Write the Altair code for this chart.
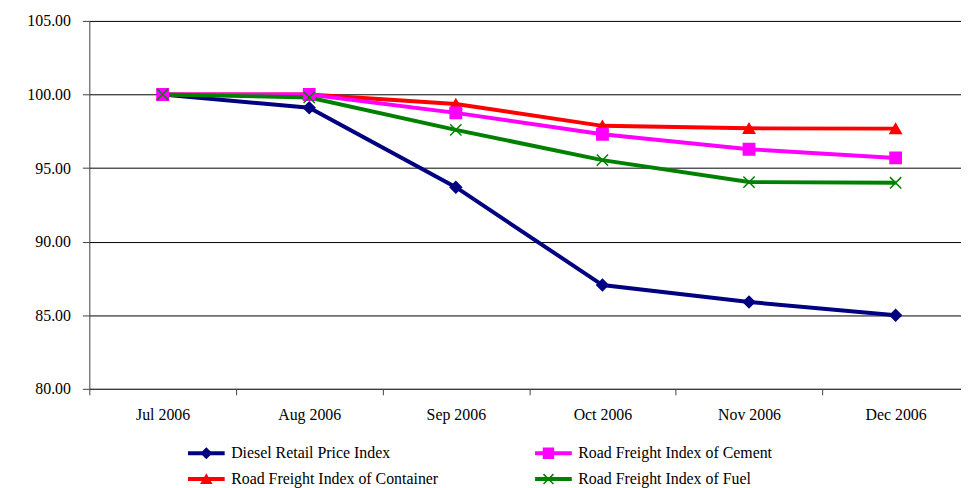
import altair as alt
import pandas as pd

# ---- data ----
months = ["Jul 2006", "Aug 2006", "Sep 2006", "Oct 2006", "Nov 2006", "Dec 2006"]
# legend is filled column by column: col 1 = Diesel, Container; col 2 = Cement, Fuel
series_names = [
    "Diesel Retail Price Index",
    "Road Freight Index of Container",
    "Road Freight Index of Cement",
    "Road Freight Index of Fuel",
]
diesel = [100.00, 99.10, 93.70, 87.05, 85.90, 85.00]
container = [100.00, 100.00, 99.35, 97.87, 97.70, 97.68]
cement = [100.00, 100.00, 98.75, 97.30, 96.28, 95.69]
fuel = [100.00, 99.80, 97.60, 95.54, 94.05, 94.00]
y_ticks = [80, 85, 90, 95, 100, 105]

colors = ["#000080", "#FF0000", "#FF00FF", "#008000"]
shapes = ["diamond", "triangle-up", "square", "M-1,-1L1,1M-1,1L1,-1"]

rows = []
for name, vals in zip(series_names, [diesel, container, cement, fuel]):
    for m, v in zip(months, vals):
        rows.append({"series": name, "month": m, "value": v})
df = pd.DataFrame(rows)

FONT = "Liberation Serif"
AXIS_COL = "#404040"

x_enc = alt.X(
    "month:N",
    sort=months,
    scale=alt.Scale(type="band", paddingInner=0, paddingOuter=0, range=[0, 887]),
    axis=alt.Axis(
        title=None, labelAngle=0, tickBand="extent", grid=False, tickSize=6,
        labelPadding=12, labelFont=FONT, labelFontSize=16, labelColor="black",
        domainColor=AXIS_COL, tickColor=AXIS_COL, domainWidth=1,
    ),
)
y_enc = alt.Y(
    "value:Q",
    scale=alt.Scale(domain=[80, 105], nice=False, zero=False),
    axis=alt.Axis(
        title=None, values=y_ticks, format=".2f", grid=True, gridColor="black",
        gridWidth=1, tickSize=7, labelPadding=12, labelFont=FONT, labelFontSize=16,
        labelColor="black", domainColor=AXIS_COL, tickColor=AXIS_COL,
    ),
)

LEG_X = 96
LEG_Y = 428
COL_PAD = 89

common = dict(
    title=None, orient="none", legendX=LEG_X, legendY=LEG_Y, columns=2,
    symbolSize=100, symbolOffset=14, labelOffset=17,
    labelFont=FONT, labelFontSize=16, labelLimit=500,
    columnPadding=COL_PAD, rowPadding=10, padding=0,
)
line_legend = alt.Legend(
    symbolType="M-3.7,0H3.7", symbolStrokeWidth=4, labelColor="black", **common
)
pt_legend = alt.Legend(symbolStrokeWidth=1.5, labelOpacity=0, **common)

lines = alt.Chart(df).mark_line(strokeWidth=4).encode(
    x=x_enc,
    y=y_enc,
    color=alt.Color("series:N", sort=series_names, scale=alt.Scale(range=colors), legend=line_legend),
)

points = alt.Chart(df).mark_point(filled=True, opacity=1, size=130, strokeWidth=1.5).encode(
    x=x_enc,
    y=y_enc,
    fill=alt.Fill("series:N", scale=alt.Scale(domain=series_names, range=colors), legend=pt_legend),
    stroke=alt.Stroke("series:N", scale=alt.Scale(domain=series_names, range=colors), legend=pt_legend),
    shape=alt.Shape("series:N", scale=alt.Scale(domain=series_names, range=shapes), legend=pt_legend),
)

chart = alt.layer(lines, points).properties(
    width=879,
    height=371,
    padding={"left": 82, "top": 11, "right": 0, "bottom": 100},
    autosize=alt.AutoSizeParams(type="none"),
).configure_view(stroke=None)

chart.save("out.html", embed_options={"renderer": "svg", "actions": False})
